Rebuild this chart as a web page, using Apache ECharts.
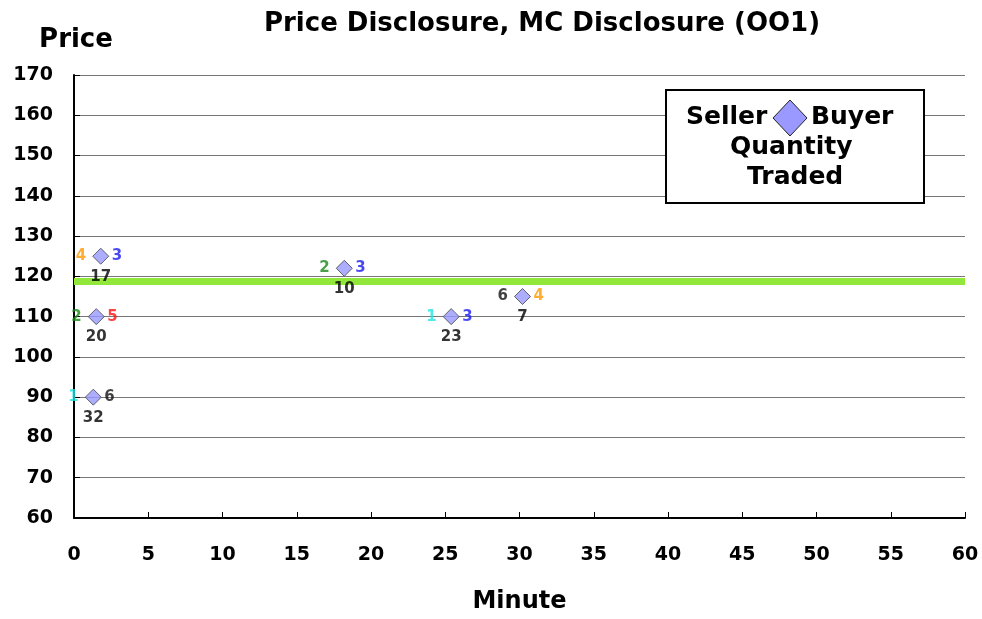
<!DOCTYPE html>
<html>
<head>
<meta charset="utf-8">
<title>Price Disclosure, MC Disclosure (OO1)</title>
<script src="https://cdn.jsdelivr.net/npm/echarts@6/dist/echarts.min.js"></script>
<style>html,body{margin:0;padding:0;background:#fff;}</style>
</head>
<body>
<div id="main" style="width:982px;height:619px;"></div>
<script type="text/javascript">
// trades: minute, price, seller id, buyer id, quantity traded
var minutes = [1.8, 1.5, 1.3, 18.2, 25.4, 30.2];
var prices = [125, 110, 90, 122, 110, 115];
var sellers = [4, 2, 1, 2, 1, 6];
var buyers = [3, 5, 6, 3, 3, 4];
var quantities = [17, 20, 32, 10, 23, 7];
var mcLine = 118.7;

var idColors = {1: '#22e5e5', 2: '#1a8a1a', 3: '#1a1aee', 4: '#ff9900', 5: '#ff1111', 6: '#111111'};
var font = '"DejaVu Sans", Verdana, sans-serif';

var pts = minutes.map(function (m, i) {
    return [m, prices[i], sellers[i], buyers[i], quantities[i]];
});

var rich = {};
for (var k in idColors) {
    rich['c' + k] = {color: idColors[k], fontWeight: 'bold', fontSize: 15, fontFamily: font};
}

var myChart = echarts.init(document.getElementById('main'));
var option = {
    backgroundColor: '#fff',
    animation: false,
    title: {
        text: 'Price Disclosure, MC Disclosure (OO1)',
        left: 537, top: 6, textAlign: 'center',
        textStyle: {fontFamily: font, fontWeight: 'bold', fontSize: 26, color: '#000'}
    },
    grid: {left: 74, right: 17, top: 75, bottom: 98},
    xAxis: {
        type: 'value', min: 0, max: 60, interval: 5,
        name: 'Minute', nameLocation: 'middle', nameGap: 72,
        nameTextStyle: {fontFamily: font, fontWeight: 'bold', fontSize: 24, color: '#000'},
        axisLine: {lineStyle: {color: '#000', width: 2}},
        axisTick: {show: true, inside: true, length: 6, lineStyle: {color: '#000', width: 1}},
        axisLabel: {fontFamily: font, fontWeight: 'bold', fontSize: 19, color: '#000', margin: 28},
        splitLine: {show: false}
    },
    yAxis: {
        type: 'value', min: 60, max: 170, interval: 10,
        name: 'Price', nameLocation: 'end', nameGap: 22,
        nameTextStyle: {fontFamily: font, fontWeight: 'bold', fontSize: 26, color: '#000', align: 'center', padding: [0, 0, 0, 4]},
        axisLine: {show: true, lineStyle: {color: '#000', width: 2}},
        axisTick: {show: true, inside: true, length: 6, lineStyle: {color: '#000', width: 1}},
        axisLabel: {fontFamily: font, fontWeight: 'bold', fontSize: 19, color: '#000', margin: 21},
        splitLine: {show: true, lineStyle: {color: '#777', width: 1.2}}
    },
    series: [
        {
            name: 'MC', type: 'line', symbol: 'none', z: 3,
            data: [[0, mcLine], [60, mcLine]],
            lineStyle: {color: '#92e83a', width: 7}
        },
        {
            name: 'trades', type: 'scatter', symbol: 'diamond', symbolSize: 16, z: 5,
            data: pts,
            itemStyle: {color: '#9999ff', borderColor: '#444', borderWidth: 1},
            label: {
                show: true, position: 'left', distance: 6,
                formatter: function (p) { return '{c' + p.value[2] + '|' + p.value[2] + '}'; },
                rich: rich
            }
        },
        {
            name: 'buyers', type: 'scatter', symbol: 'diamond', symbolSize: 16, z: 6,
            data: pts, silent: true,
            itemStyle: {color: 'rgba(0,0,0,0)', borderWidth: 0},
            label: {
                show: true, position: 'right', distance: 3,
                formatter: function (p) { return '{c' + p.value[3] + '|' + p.value[3] + '}'; },
                rich: rich
            }
        },
        {
            name: 'qty', type: 'scatter', symbol: 'diamond', symbolSize: 16, z: 6,
            data: pts, silent: true,
            itemStyle: {color: 'rgba(0,0,0,0)', borderWidth: 0},
            label: {
                show: true, position: 'bottom', distance: 5,
                formatter: function (p) { return p.value[4]; },
                color: '#000', fontWeight: 'bold', fontSize: 15, fontFamily: font
            }
        }
    ],
    graphic: [
        {
            type: 'rect', left: 665, top: 89, z: 10,
            shape: {width: 258, height: 113},
            style: {fill: '#fff', stroke: '#000', lineWidth: 2}
        },
        {
            type: 'text', left: 686, top: 105, z: 11,
            style: {text: 'Seller', fontFamily: font, fontWeight: 'bold', fontSize: 25, fill: '#000'}
        },
        {
            type: 'polygon', z: 11,
            shape: {points: [[790, 100], [807, 118], [790, 136], [773, 118]]},
            style: {fill: '#9999ff', stroke: '#222', lineWidth: 1}
        },
        {
            type: 'text', left: 811, top: 105, z: 11,
            style: {text: 'Buyer', fontFamily: font, fontWeight: 'bold', fontSize: 25, fill: '#000'}
        },
        {
            type: 'text', left: 730, top: 135, z: 11,
            style: {text: 'Quantity', fontFamily: font, fontWeight: 'bold', fontSize: 25, fill: '#000'}
        },
        {
            type: 'text', left: 747, top: 165, z: 11,
            style: {text: 'Traded', fontFamily: font, fontWeight: 'bold', fontSize: 25, fill: '#000'}
        }
    ]
};
myChart.setOption(option);
</script>
</body>
</html>
